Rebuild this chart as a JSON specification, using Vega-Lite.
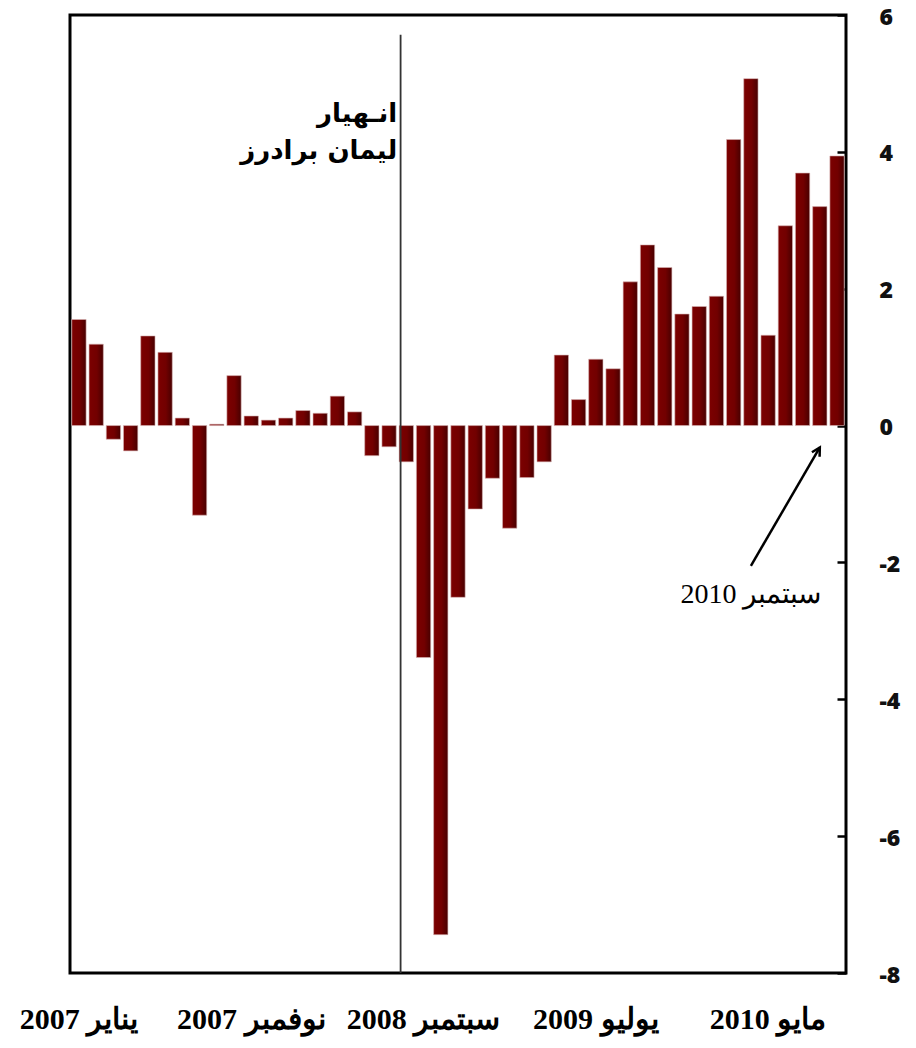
{
  "$schema": "https://vega.github.io/schema/vega-lite/v6.json",
  "autosize": {"type": "none"},
  "padding": {"left": 70, "top": 15, "right": 70, "bottom": 75},
  "width": 776,
  "height": 958,
  "background": "white",
  "config": {
    "view": {"stroke": "black", "strokeWidth": 3}
  },
  "datasets": {
    "bars": [
      {"month": "2007-01", "value": 1.55},
      {"month": "2007-02", "value": 1.19},
      {"month": "2007-03", "value": -0.20},
      {"month": "2007-04", "value": -0.37},
      {"month": "2007-05", "value": 1.31},
      {"month": "2007-06", "value": 1.07},
      {"month": "2007-07", "value": 0.11},
      {"month": "2007-08", "value": -1.31},
      {"month": "2007-09", "value": 0.02},
      {"month": "2007-10", "value": 0.73},
      {"month": "2007-11", "value": 0.14},
      {"month": "2007-12", "value": 0.08},
      {"month": "2008-01", "value": 0.11},
      {"month": "2008-02", "value": 0.22},
      {"month": "2008-03", "value": 0.18},
      {"month": "2008-04", "value": 0.43},
      {"month": "2008-05", "value": 0.20},
      {"month": "2008-06", "value": -0.44},
      {"month": "2008-07", "value": -0.31},
      {"month": "2008-08", "value": -0.53},
      {"month": "2008-09", "value": -3.39},
      {"month": "2008-10", "value": -7.44},
      {"month": "2008-11", "value": -2.51},
      {"month": "2008-12", "value": -1.22},
      {"month": "2009-01", "value": -0.77},
      {"month": "2009-02", "value": -1.50},
      {"month": "2009-03", "value": -0.76},
      {"month": "2009-04", "value": -0.53},
      {"month": "2009-05", "value": 1.03},
      {"month": "2009-06", "value": 0.38},
      {"month": "2009-07", "value": 0.97},
      {"month": "2009-08", "value": 0.83},
      {"month": "2009-09", "value": 2.10},
      {"month": "2009-10", "value": 2.64},
      {"month": "2009-11", "value": 2.31},
      {"month": "2009-12", "value": 1.63},
      {"month": "2010-01", "value": 1.74},
      {"month": "2010-02", "value": 1.89},
      {"month": "2010-03", "value": 4.18},
      {"month": "2010-04", "value": 5.07},
      {"month": "2010-05", "value": 1.32},
      {"month": "2010-06", "value": 2.92},
      {"month": "2010-07", "value": 3.69},
      {"month": "2010-08", "value": 3.20},
      {"month": "2010-09", "value": 3.94}
    ]
  },
  "layer": [
    {
      "data": {"name": "bars"},
      "mark": {
        "type": "bar",
        "color": {
          "gradient": "linear", "x1": 0, "x2": 1, "y1": 0, "y2": 0,
          "stops": [
            {"offset": 0, "color": "#7c0000"},
            {"offset": 0.55, "color": "#720000"},
            {"offset": 1, "color": "#480000"}
          ]
        },
        "stroke": "#d8b4b4",
        "strokeWidth": 0.6
      },
      "encoding": {
        "x": {
          "field": "month", "type": "nominal",
          "scale": {"paddingInner": 0.17, "paddingOuter": 0.105},
          "axis": {
            "title": null, "domain": false, "ticks": false, "labelAngle": 0,
            "labelOverlap": false, "labelBound": false, "labelFlush": false,
            "labelFont": "Liberation Serif", "labelFontWeight": "bold", "labelFontSize": 30,
            "labelColor": "black", "labelPadding": 31,
            "labelExpr": "datum.value == '2007-01' ? '2007 يناير' : datum.value == '2007-11' ? '2007 نوفمبر' : datum.value == '2008-09' ? '2008 سبتمبر' : datum.value == '2009-07' ? '2009 يوليو' : datum.value == '2010-05' ? '2010 مايو' : ''"
          }
        },
        "y": {
          "field": "value", "type": "quantitative",
          "scale": {"domain": [-8, 6], "nice": false},
          "axis": {
            "orient": "right", "title": null, "grid": false, "domain": false,
            "values": [-8, -6, -4, -2, 0, 2, 4, 6],
            "offset": -9,
            "tickSize": 9, "tickWidth": 2.5, "tickColor": "black",
            "labelPadding": 33,
            "labelOffset": 2,
            "labelExpr": "'' + datum.value",
            "labelFont": "Open Sans", "labelFontWeight": 800, "labelFontSize": 23,
            "labelColor": "#111111"
          }
        }
      }
    },
    {
      "mark": {"type": "rule", "color": "black", "strokeWidth": 3.5},
      "encoding": {"y": {"datum": 0, "type": "quantitative"}}
    },
    {
      "data": {"values": [{"month": "2008-08", "top": 5.71, "bottom": -8}]},
      "mark": {"type": "rule", "color": "#333333", "strokeWidth": 1.8},
      "encoding": {
        "x": {"field": "month", "type": "nominal", "bandPosition": 0.1},
        "y": {"field": "top", "type": "quantitative"},
        "y2": {"field": "bottom"}
      }
    },
    {
      "data": {"values": [
        {"month": "2008-08", "v": 4.43, "label": "انـهيار"},
        {"month": "2008-08", "v": 3.89, "label": "ليمان برادرز"}
      ]},
      "mark": {"type": "text", "align": "right", "baseline": "alphabetic", "dx": -2,
               "font": "DejaVu Sans", "fontWeight": "bold", "fontSize": 26, "color": "black"},
      "encoding": {
        "x": {"field": "month", "type": "nominal", "bandPosition": 0},
        "y": {"field": "v", "type": "quantitative"},
        "text": {"field": "label"}
      }
    },
    {
      "data": {"values": [
        {"month": "2010-04", "v": -2.05},
        {"month": "2010-08", "v": -0.32}
      ]},
      "mark": {"type": "line", "color": "black", "strokeWidth": 2.5},
      "encoding": {
        "x": {"field": "month", "type": "nominal"},
        "y": {"field": "v", "type": "quantitative"}
      }
    },
    {
      "data": {"values": [{"month": "2010-08", "v": -0.32}]},
      "mark": {"type": "point", "shape": "M-0.55,1L0,0L0.55,1", "filled": false,
               "stroke": "black", "strokeWidth": 2.5, "size": 260, "angle": 30, "opacity": 1},
      "encoding": {
        "x": {"field": "month", "type": "nominal"},
        "y": {"field": "v", "type": "quantitative"}
      }
    },
    {
      "data": {"values": [{"month": "2010-04", "v": -2.6, "label": "2010 سبتمبر"}]},
      "mark": {"type": "text", "align": "center", "baseline": "alphabetic",
               "font": "Liberation Serif", "fontSize": 28, "color": "black"},
      "encoding": {
        "x": {"field": "month", "type": "nominal"},
        "y": {"field": "v", "type": "quantitative"},
        "text": {"field": "label"}
      }
    }
  ]
}
